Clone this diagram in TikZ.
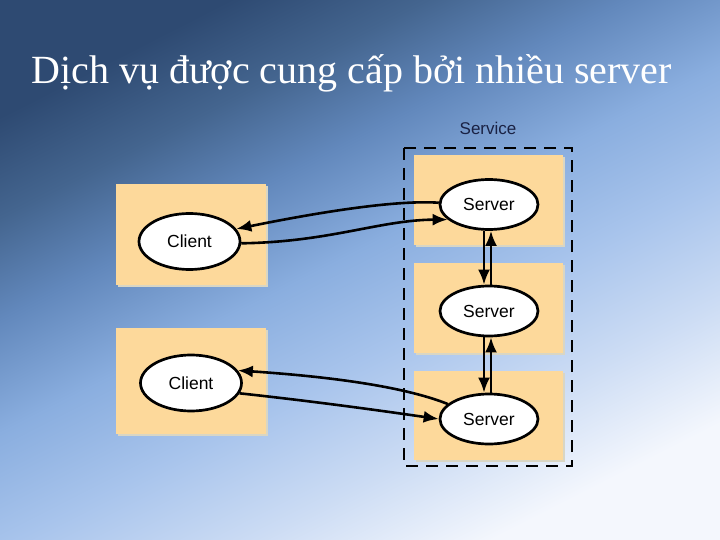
\documentclass[tikz,border=0pt]{standalone}
\usepackage{fontspec}
\setmainfont{Liberation Serif}
\setsansfont{Liberation Sans}
\usetikzlibrary{positioning,shapes.geometric,arrows.meta}

\definecolor{boxfill}{HTML}{FDD99B}
\definecolor{boxshadow}{HTML}{D9D6C4}
\definecolor{labelcol}{HTML}{1A2244}
\pgfdeclareverticalshading{slidebg}{100bp}{%
  color(0bp)=(rgb,255:red,244;green,247;blue,253);
  color(25bp)=(rgb,255:red,244;green,247;blue,253);
  color(34bp)=(rgb,255:red,204;green,220;blue,244);
  color(43bp)=(rgb,255:red,168;green,196;blue,236);
  color(51.5bp)=(rgb,255:red,138;green,174;blue,223);
  color(60bp)=(rgb,255:red,98;green,136;blue,188);
  color(67.5bp)=(rgb,255:red,68;green,101;blue,143);
  color(75bp)=(rgb,255:red,46;green,74;blue,114);
  color(100bp)=(rgb,255:red,46;green,74;blue,114)}

\tikzset{
  host/.style={ellipse, draw=black, line width=2.7pt, fill=white,
    minimum width=101pt, minimum height=56pt, inner sep=0pt,
    font=\sffamily\fontsize{17.5}{20}\selectfont},
  msg/.style={line width=2.6pt, -{Latex[length=15pt,width=12pt]}},
}

\begin{document}
\begin{tikzpicture}[x=1pt,y=-1pt]
\useasboundingbox (0,0) rectangle (720,540);
\shade[shading=slidebg, shading angle=27] (0,0) rectangle (720,540);

\node[anchor=base west, white, font=\fontsize{40}{44}\selectfont] (T) at (28,84)
  {Dịch vụ được cung cấp bởi nhiều server};

% client boxes
\fill[boxshadow] (118,186) rectangle (268,287);
\fill[boxfill] (116,184) rectangle (266,285);
\fill[boxshadow] (118,330) rectangle (268,436);
\fill[boxfill] (116,328) rectangle (266,434);

% server boxes
\fill[boxshadow] (416,157) rectangle (565,247);
\fill[boxfill] (414,155) rectangle (563,245);
\fill[boxshadow] (416,265) rectangle (565,355);
\fill[boxfill] (414,263) rectangle (563,353);
\fill[boxshadow] (416,373) rectangle (565,462);
\fill[boxfill] (414,371) rectangle (563,460);

% service boundary
\draw[line width=2.6pt, dash pattern=on 12pt off 8pt] (404,148) rectangle (572,466);
\node[labelcol, font=\sffamily\fontsize{17}{20}\selectfont] (SV) at (488,128) {Service};

\node[host] (C1) at (189.5,241.5) {Client};
\node[host] (C2) at (191,383) {Client};
\node[host, minimum width=98pt, minimum height=50pt] (S1) at (489,204.5) {Server};
\node[host, minimum width=98pt, minimum height=50pt] (S2) at (489,311) {Server};
\node[host, minimum width=98pt, minimum height=50pt] (S3) at (489,419) {Server};

\draw[msg] (S1.178) .. controls (400,200) and (330,210) .. (C1.15);
\draw[msg] (C1.-2) .. controls (330,242) and (380,220) .. (S1.200);

\draw[msg] ([xshift=-5pt]S1.south) -- ([xshift=-5pt]S2.north);
\draw[msg] ([xshift=2pt]S2.north) -- ([xshift=2pt]S1.south);
\draw[msg] ([xshift=-5pt]S2.south) -- ([xshift=-5pt]S3.north);
\draw[msg] ([xshift=2pt]S3.north) -- ([xshift=2pt]S2.south);

\draw[msg] (S3.160) .. controls (400,385) and (320,376) .. (C2.15);
\draw[msg] (C2.-12) .. controls (320,402) and (390,412) .. (S3.180);
\end{tikzpicture}
\end{document}
